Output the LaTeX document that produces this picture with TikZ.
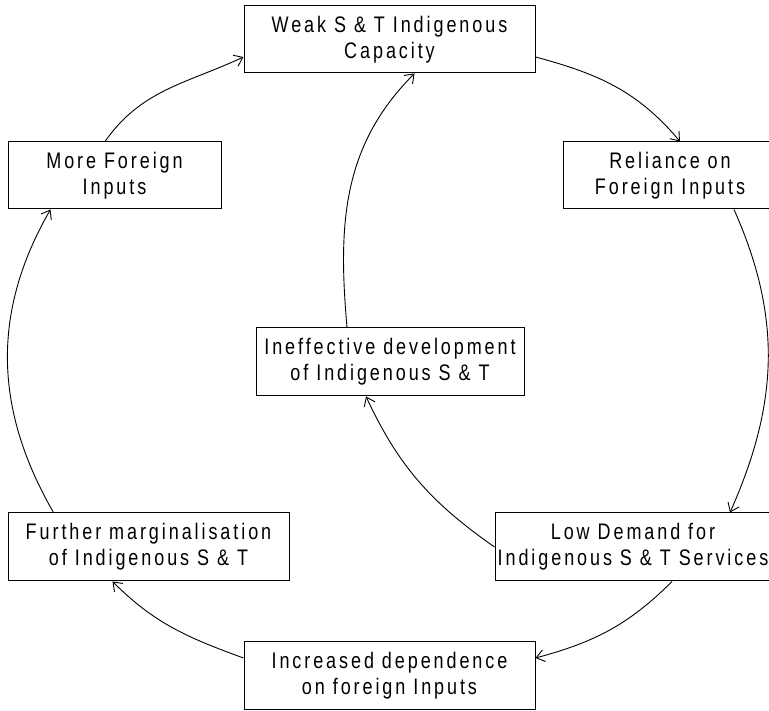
\documentclass[tikz,border=0pt]{standalone}
\usepackage{fontspec}
\setmainfont{Liberation Sans}[FakeStretch=0.8,LetterSpace=13]
\usetikzlibrary{arrows.meta,calc}
\begin{document}
\begin{tikzpicture}[x=1pt,y=1pt,
  box/.style={draw,line width=1pt,rectangle,minimum height=67pt,align=center,inner sep=0pt,font=\fontsize{22.5}{26}\selectfont},
  link/.style={line width=0.9pt,-{Straight Barb[length=8pt,width=12pt]}}]
\useasboundingbox (0,0) rectangle (769,711);
\clip (0,0) rectangle (769,711);
\node[box,minimum width=291pt] (weak) at (389.5,671.5) {Weak S \& T Indigenous\\Capacity};
\node[box,minimum width=213pt] (more) at (114.5,535.5) {More Foreign\\Inputs};
\node[box,minimum width=214pt] (rel) at (670,535.5) {Reliance on\\Foreign Inputs};
\node[box,minimum width=268pt,minimum height=68pt] (ineff) at (390,349) {Ineffective development\\of Indigenous S \& T};
\node[box,minimum width=281pt,minimum height=68pt] (further) at (148.5,164) {Further marginalisation\\of Indigenous S \& T};
\node[box,minimum width=276pt,minimum height=68pt] (low) at (633,164) {Low Demand for\\Indigenous S \& T Services};
\node[box,minimum width=291pt,minimum height=68pt] (inc) at (389.5,35) {Increased dependence\\on foreign Inputs};
% outer cycle
\draw[link] ($(more.north)+(-9.5,0)$) to[out=55,in=205] ($(weak.west)+(0,-17.5)$);
\draw[link] ($(weak.east)+(0,-17.5)$) to[out=-15,in=130] ($(rel.north)+(10,0)$);
\draw[link] ($(rel.south)+(64,0)$) to[out=-66,in=66] ($(low.north)+(97,0)$);
\draw[link] ($(low.south)+(39,0)$) to[out=-135,in=15] ($(inc.east)+(0,18)$);
\draw[link] ($(inc.west)+(0,18)$) to[out=160,in=-45] ($(further.south)+(-36,0)$);
\draw[link] ($(further.north)+(-95,0)$) to[out=120,in=-120] ($(more.south)+(-64,0)$);
% inner cycle
\draw[link] ($(low.west)+(0,0)$) to[out=145,in=-65] ($(ineff.south)+(-24,0)$);
\draw[link] ($(ineff.north)+(-43,0)$) to[out=95,in=-135] ($(weak.south)+(25,0)$);
\end{tikzpicture}
\end{document}
